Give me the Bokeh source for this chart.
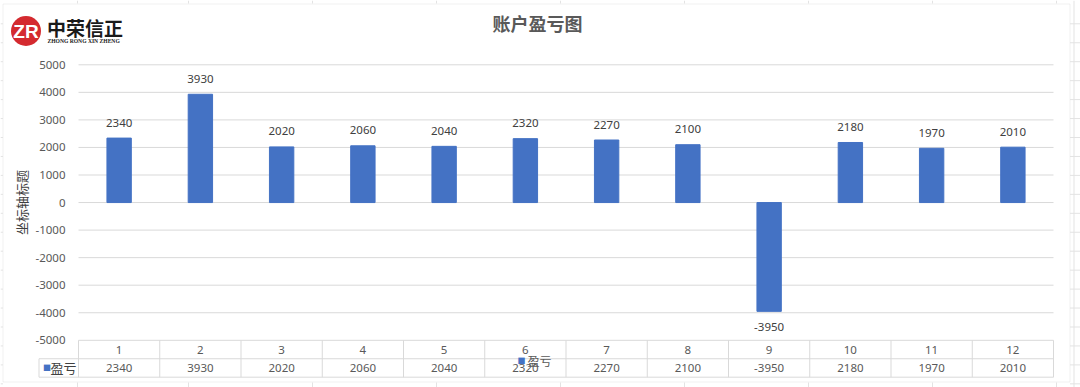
from bokeh.plotting import figure
from bokeh.models import Range1d, FixedTicker, Label, BoxAnnotation, ColumnDataSource
from bokeh.core.properties import value
from bokeh.embed import file_html
from bokeh.resources import INLINE

# ---------------- data ----------------
periods = list(range(1, 13))
period_labels = [str(i) for i in periods]
pnl = [2340, 3930, 2020, 2060, 2040, 2320, 2270, 2100, -3950, 2180, 1970, 2010]
y_ticks = [5000, 4000, 3000, 2000, 1000, 0, -1000, -2000, -3000, -4000, -5000]
chart_title = "账户盈亏图"
series_name = "盈亏"
y_axis_title = "坐标轴标题"
logo_cn = "中荣信正"
logo_en = "ZHONG RONG XIN ZHENG"

# ---------------- layout (canvas pixels) ----------------
W, H = 1080, 387
PLOT_L, PLOT_R = 78.0, 1053.0
PY_MAX, PY_MIN = 64.3, 339.8          # canvas y of top / bottom tick
YMAX, YMIN = max(y_ticks), min(y_ticks)
n = len(periods)
ppu_y = (PY_MIN - PY_MAX) / (YMAX - YMIN)
ppu_x = (PLOT_R - PLOT_L) / n
x_start = 0.5 - PLOT_L / ppu_x
x_end = n + 0.5 + (W - PLOT_R) / ppu_x
y_end = YMAX + PY_MAX / ppu_y
y_start = YMIN - (H - PY_MIN) / ppu_y


def X(px):
    return 0.5 + (px - PLOT_L) / ppu_x


def Y(py):
    return YMAX + (PY_MAX - py) / ppu_y


BLUE = "#4472C4"
GRID = "#d9d9d9"
TXT = "#595959"
DARK = "#404040"
NUM_FONT = "Noto Sans"
CJK = "Noto Sans CJK SC"

p = figure(width=W, height=H, output_backend="svg", toolbar_location=None,
           x_range=Range1d(x_start, x_end), y_range=Range1d(y_start, y_end),
           x_axis_location=None, y_axis_location="left",
           min_border_left=0, min_border_right=0, min_border_top=0, min_border_bottom=0)
p.outline_line_color = None
p.background_fill_color = "white"
p.border_fill_color = "white"
p.xgrid.visible = False
p.ygrid.visible = False

# y axis drawn at the left edge of the plot area
ax = p.yaxis[0]
ax.fixed_location = 0.5
ax.bounds = (YMIN, YMAX)
ax.ticker = FixedTicker(ticks=y_ticks)
ax.major_label_overrides = {t: str(t) for t in y_ticks}
ax.axis_line_color = None
ax.major_tick_line_color = None
ax.minor_tick_line_color = None
ax.major_label_standoff = 7
ax.major_label_text_font = NUM_FONT
ax.major_label_text_font_size = "11.5px"
ax.major_label_text_color = TXT
ax.axis_label = y_axis_title
ax.axis_label_text_font = CJK
ax.axis_label_text_font_size = "13px"
ax.axis_label_text_font_style = "normal"
ax.axis_label_text_color = DARK
ax.axis_label_standoff = 1

# spreadsheet grid around the chart object
sheet_rows = [23.3 + 18.95 * k for k in range(21)]
p.segment(x0=[X(1069.5)] * len(sheet_rows), x1=[X(1080)] * len(sheet_rows),
          y0=[Y(r) for r in sheet_rows], y1=[Y(r) for r in sheet_rows],
          line_color="#e3e3e3", line_width=1)
p.segment(x0=[X(0)] * len(sheet_rows), x1=[X(2.5)] * len(sheet_rows),
          y0=[Y(r) for r in sheet_rows], y1=[Y(r) for r in sheet_rows],
          line_color="#e3e3e3", line_width=1)
p.segment(x0=[X(1073.5)], x1=[X(1073.5)], y0=[Y(0)], y1=[Y(387)],
          line_color="#e3e3e3", line_width=1)
sheet_cols = [77, 188, 312, 436, 560, 684, 808, 932, 1056]
p.segment(x0=[X(c) for c in sheet_cols], x1=[X(c) for c in sheet_cols],
          y0=[Y(0)] * len(sheet_cols), y1=[Y(3)] * len(sheet_cols),
          line_color="#e3e3e3", line_width=1)
p.segment(x0=[X(c) for c in sheet_cols], x1=[X(c) for c in sheet_cols],
          y0=[Y(382)] * len(sheet_cols), y1=[Y(387)] * len(sheet_cols),
          line_color="#e3e3e3", line_width=1)

# chart-object border
p.add_layout(BoxAnnotation(left=X(2.5), right=X(1069.5), top=Y(3.5), bottom=Y(381.5),
                           fill_color="white", fill_alpha=1, line_color="#cfcfcf",
                           line_width=1, level="underlay"))

# horizontal gridlines (plot area only)
p.segment(x0=[0.5] * len(y_ticks), x1=[n + 0.5] * len(y_ticks), y0=y_ticks, y1=y_ticks,
          line_color=GRID, line_width=1)

# bars
src = ColumnDataSource(dict(x=periods, v=pnl, lab=[str(v) for v in pnl],
                            off=[-15.5 if v >= 0 else 15.5 for v in pnl]))
p.vbar(x="x", top="v", bottom=0, width=0.3, source=src, fill_color=BLUE, line_color=BLUE)
p.text(x="x", y="v", text="lab", y_offset="off", source=src, text_align="center",
       text_baseline="middle", text_font=value(NUM_FONT), text_font_size="11.5px",
       text_color=DARK)

# data table under the plot area
row_h = 18.45 / ppu_y
r0, r1, r2 = YMIN, YMIN - row_h, YMIN - 2 * row_h
hx = X(38.5)
p.segment(x0=[hx, hx], x1=[n + 0.5, n + 0.5], y0=[r1, r2], y1=[r1, r2],
          line_color=GRID, line_width=1)
p.segment(x0=[i + 0.5 for i in range(n + 1)], x1=[i + 0.5 for i in range(n + 1)],
          y0=[r0] * (n + 1), y1=[r2] * (n + 1), line_color=GRID, line_width=1)
p.segment(x0=[hx], x1=[hx], y0=[r1], y1=[r2], line_color=GRID, line_width=1)
tsrc = ColumnDataSource(dict(x=periods, c=period_labels, v=[str(v) for v in pnl],
                             y1=[(r0 + r1) / 2] * n, y2=[(r1 + r2) / 2] * n))
p.text(x="x", y="y1", text="c", source=tsrc, text_align="center", text_baseline="middle",
       text_font=value(NUM_FONT), text_font_size="11.5px", text_color=TXT)
p.text(x="x", y="y2", text="v", source=tsrc, text_align="center", text_baseline="middle",
       text_font=value(NUM_FONT), text_font_size="11.5px", text_color=TXT)
p.add_layout(Label(x=X(42.5), y=(r1 + r2) / 2, text="■", text_color=BLUE, text_font=CJK,
                   text_font_size="8px", text_baseline="middle"))
p.add_layout(Label(x=X(50), y=(r1 + r2) / 2, text=series_name, text_color=DARK,
                   text_font=CJK, text_font_size="13px", text_baseline="middle"))

# legend (Excel places it over the table)
p.add_layout(Label(x=X(517), y=Y(360), text="■", text_color=BLUE, text_font=CJK,
                   text_font_size="8px", text_baseline="middle"))
p.add_layout(Label(x=X(527), y=Y(360), text=series_name, text_color=TXT,
                   text_font=CJK, text_font_size="12px", text_baseline="middle"))

# title
p.add_layout(Label(x=X(537), y=Y(22.5), text=chart_title, text_align="center",
                   text_baseline="middle", text_font=CJK, text_font_size="18px",
                   text_font_style="bold", text_color=TXT))

# logo
p.add_layout(BoxAnnotation(left=X(10.5), right=X(40.5), top=Y(15.5), bottom=Y(45.5),
                           fill_color="#d42a2f", fill_alpha=1, line_color=None,
                           border_radius=15))
p.add_layout(Label(x=X(25.5), y=Y(31), text="ZR", text_align="center", text_baseline="middle",
                   text_font="Liberation Sans", text_font_size="19px",
                   text_font_style="bold", text_color="white"))
p.add_layout(Label(x=X(46.5), y=Y(26.5), text=logo_cn, text_baseline="middle",
                   text_font=CJK, text_font_size="19px", text_font_style="bold",
                   text_color="#1a1a1a"))
p.add_layout(Label(x=X(47), y=Y(40.3), text=logo_en, text_baseline="middle",
                   text_font="Liberation Serif", text_font_size="5.6px", text_font_style="bold",
                   text_color="#1a1a1a"))

open("out.html", "w").write(file_html(p, INLINE))
